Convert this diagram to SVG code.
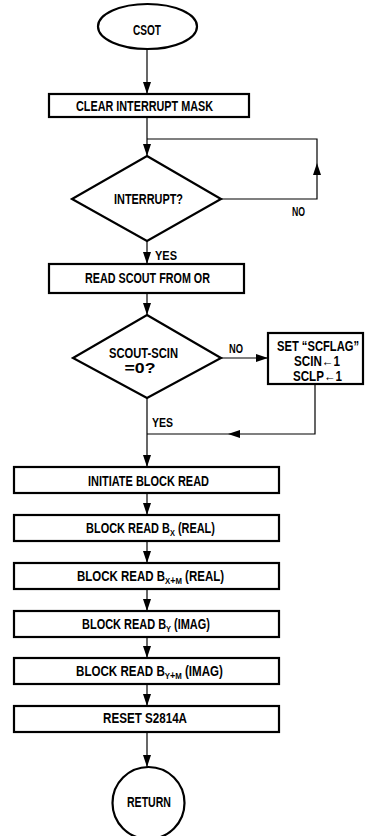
<svg xmlns="http://www.w3.org/2000/svg" width="365" height="836" viewBox="0 0 365 836">
<defs>
<style>
.shape{fill:#fff;stroke:#000;stroke-width:2.2}
.ln{fill:none;stroke:#000;stroke-width:1.2}
.ar{fill:none;stroke:#000;stroke-width:1.2;marker-end:url(#ah)}
text{font-family:"Liberation Sans",Arial,sans-serif;font-weight:bold;font-size:14px;fill:#000}
.c{text-anchor:middle}
.lbl{font-size:13px}
.sub{font-size:9.5px}
.pl{font-size:11px}
</style>
<marker id="ah" viewBox="0 0 12 8" refX="12" refY="4" markerWidth="12" markerHeight="8" markerUnits="userSpaceOnUse" orient="auto">
<path d="M0,0 L12,4 L0,8 z" fill="#000"/>
</marker>
</defs>
<rect width="365" height="836" fill="#fff"/>
<g id="connectors">
<path class="ar" d="M147,49 V94"/>
<path class="ar" d="M147,117 V156"/>
<path class="ar" d="M221,199 H317 V163"/>
<path class="ln" d="M317,163 V139 H147"/>
<path class="ar" d="M147,241 V264"/>
<path class="ar" d="M147,293 V315"/>
<path class="ar" d="M221,358 H268"/>
<path class="ar" d="M315,384 V434 H228"/>
<path class="ln" d="M228,434 H147"/>
<path class="ar" d="M147,398 V467"/>
<path class="ar" d="M147,493 V515"/>
<path class="ar" d="M147,541 V563"/>
<path class="ar" d="M147,589 V611"/>
<path class="ar" d="M147,637 V658"/>
<path class="ar" d="M147,684 V706"/>
<path class="ar" d="M147,732 V767"/>
<text class="lbl c" x="298.5" y="216" textLength="13" lengthAdjust="spacingAndGlyphs">NO</text>
<text class="lbl" x="155" y="260" textLength="22" lengthAdjust="spacingAndGlyphs">YES</text>
<text class="lbl" x="229" y="353" textLength="14" lengthAdjust="spacingAndGlyphs">NO</text>
<text class="lbl" x="152" y="427" textLength="21" lengthAdjust="spacingAndGlyphs">YES</text>
</g>
<g id="csot">
<ellipse class="shape" cx="147.5" cy="26.5" rx="49.5" ry="22.5"/>
<text class="c" x="147" y="35" textLength="28" lengthAdjust="spacingAndGlyphs">CSOT</text>
</g>
<g id="clear-mask">
<rect class="shape" x="49" y="94" width="200" height="23"/>
<text class="c" x="144.5" y="111" textLength="137" lengthAdjust="spacingAndGlyphs">CLEAR INTERRUPT MASK</text>
</g>
<g id="interrupt">
<polygon class="shape" points="147,156 221,199 147,241 72,199"/>
<text class="c" x="148.5" y="204" textLength="69" lengthAdjust="spacingAndGlyphs">INTERRUPT?</text>
</g>
<g id="read-scout">
<rect class="shape" x="49" y="264" width="195" height="29"/>
<text class="c" x="147.5" y="283" textLength="125" lengthAdjust="spacingAndGlyphs">READ SCOUT FROM OR</text>
</g>
<g id="scout-scin">
<polygon class="shape" points="147,315 221,358 147,398 73,358"/>
<text class="c" x="143.5" y="358" textLength="69" lengthAdjust="spacingAndGlyphs">SCOUT-SCIN</text>
<text class="c" x="140" y="373" textLength="31" lengthAdjust="spacingAndGlyphs">=0?</text>
</g>
<g id="set-scflag">
<rect class="shape" x="268" y="333" width="95" height="51"/>
<text class="c" transform="translate(318,351) scale(0.8,1)">SET “SCFLAG”</text>
<text class="c" x="317" y="366" textLength="46" lengthAdjust="spacingAndGlyphs">SCIN←1</text>
<text class="c" x="317.5" y="381" textLength="49" lengthAdjust="spacingAndGlyphs">SCLP←1</text>
</g>
<g id="initiate">
<rect class="shape" x="14" y="467" width="265" height="26"/>
<text class="c" x="148.5" y="486" textLength="121" lengthAdjust="spacingAndGlyphs">INITIATE BLOCK READ</text>
</g>
<g id="read-bx">
<rect class="shape" x="14" y="515" width="265" height="26"/>
<text class="c" transform="translate(150.5,533) scale(0.782,1)">BLOCK READ B<tspan class="sub" dy="3">X</tspan><tspan dy="-3"> (REAL)</tspan></text>
</g>
<g id="read-bxm">
<rect class="shape" x="14" y="563" width="265" height="26"/>
<text class="c" transform="translate(150.5,581) scale(0.82,1)">BLOCK READ B<tspan class="sub" dy="3">X</tspan><tspan class="pl">+</tspan><tspan class="sub">M</tspan><tspan dy="-3"> (REAL)</tspan></text>
</g>
<g id="read-by">
<rect class="shape" x="14" y="611" width="265" height="26"/>
<text class="c" transform="translate(146,629) scale(0.783,1)">BLOCK READ B<tspan class="sub" dy="3">Y</tspan><tspan dy="-3"> (IMAG)</tspan></text>
</g>
<g id="read-bym">
<rect class="shape" x="14" y="658" width="265" height="26"/>
<text class="c" transform="translate(149.5,676) scale(0.827,1)">BLOCK READ B<tspan class="sub" dy="3">Y</tspan><tspan class="pl">+</tspan><tspan class="sub">M</tspan><tspan dy="-3"> (IMAG)</tspan></text>
</g>
<g id="reset">
<rect class="shape" x="14" y="706" width="265" height="26"/>
<text class="c" x="145" y="723" textLength="84" lengthAdjust="spacingAndGlyphs">RESET S2814A</text>
</g>
<g id="return">
<circle class="shape" cx="148.5" cy="803" r="36"/>
<text class="c" x="149" y="807" textLength="44" lengthAdjust="spacingAndGlyphs">RETURN</text>
</g>
</svg>
